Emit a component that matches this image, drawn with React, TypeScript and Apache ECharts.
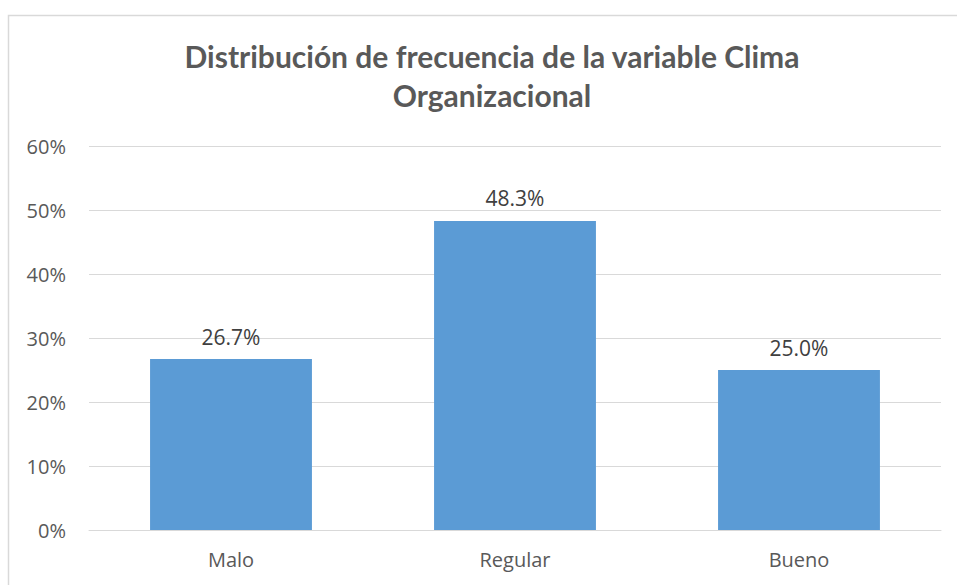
import React, { useEffect, useRef } from "react";
import * as echarts from "echarts";

const categories = ["Malo", "Regular", "Bueno"];
const values = [26.7, 48.3, 25.0];
const yTicks = [0, 10, 20, 30, 40, 50, 60];
const titleText = "Distribución de frecuencia de la variable Clima\nOrganizacional";

export default function App() {
  const ref = useRef<HTMLDivElement>(null);
  useEffect(() => {
    document.body.style.margin = "0";
    const chart = echarts.init(ref.current!, null, { renderer: "svg" });
    chart.setOption({
      animation: false,
      backgroundColor: "#ffffff",
      textStyle: { fontFamily: "Open Sans" },
      title: {
        text: titleText,
        left: 487,
        textAlign: "center",
        top: 31,
        textStyle: {
          fontFamily: "Lato",
          fontSize: 30,
          fontWeight: "bold",
          color: "#595959",
          lineHeight: 39,
        },
      },
      graphic: [
        {
          type: "rect",
          shape: { x: 8.5, y: 15.5, width: 960, height: 580 },
          style: { fill: "none", stroke: "#D9D9D9", lineWidth: 1.5 },
          silent: true,
        },
      ],
      grid: { left: 89, right: 16, top: 146, bottom: 55 },
      xAxis: {
        type: "category",
        data: categories,
        axisTick: { show: false },
        axisLine: { lineStyle: { color: "#D9D9D9" } },
        axisLabel: { fontSize: 20, color: "#595959", margin: 19, fontFamily: "Open Sans" },
      },
      yAxis: {
        type: "value",
        min: yTicks[0],
        max: yTicks[yTicks.length - 1],
        interval: 10,
        axisLine: { show: false },
        axisTick: { show: false },
        splitLine: { lineStyle: { color: "#D9D9D9" } },
        axisLabel: {
          fontSize: 20,
          color: "#595959",
          margin: 23,
          fontFamily: "Open Sans",
          formatter: (v: number) => `${v}%`,
        },
      },
      series: [
        {
          type: "bar",
          data: values,
          barWidth: "57%",
          itemStyle: { color: "#5B9BD5" },
          label: {
            show: true,
            position: "top",
            distance: 12,
            fontSize: 21,
            color: "#404040",
            fontFamily: "Open Sans",
            formatter: (p: any) => `${p.value.toFixed(1)}%`,
          },
        },
      ],
    });
    return () => chart.dispose();
  }, []);
  return (
    <div
      ref={ref}
      style={{ position: "fixed", left: 0, top: 0, width: 957, height: 585 }}
    />
  );
}
